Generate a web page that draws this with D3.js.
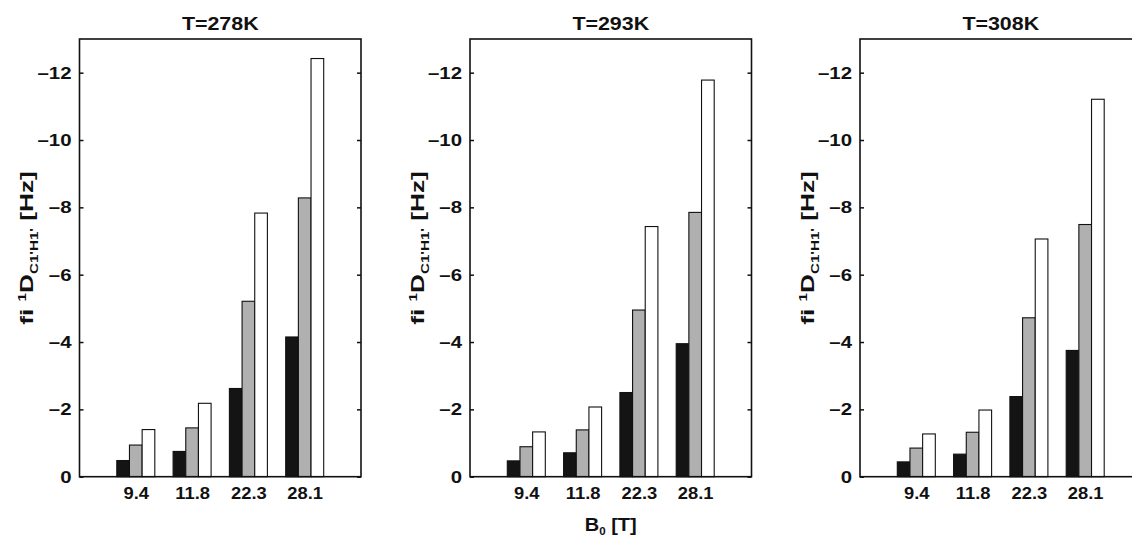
<!DOCTYPE html>
<html>
<head>
<meta charset="utf-8">
<script src="https://cdn.jsdelivr.net/npm/d3@7"></script>
<style>
  body { margin: 0; background: #fff; }
  svg text { font-family: "Liberation Sans", Arial, sans-serif; font-weight: bold; }
</style>
</head>
<body>
<svg id="chart"></svg>
<script>
// field values (Hz), one array per temperature, ordered by field then series
var fields = ["9.4", "11.8", "22.3", "28.1"];
var temps = ["T=278K", "T=293K", "T=308K"];
var seriesColors = ["#141414", "#b0b0b0", "#ffffff"];

var black278 = [-0.48, -0.75, -2.62, -4.15];
var gray278  = [-0.94, -1.45, -5.21, -8.28];
var white278 = [-1.40, -2.18, -7.83, -12.42];

var black293 = [-0.47, -0.71, -2.50, -3.95];
var gray293  = [-0.89, -1.39, -4.95, -7.85];
var white293 = [-1.33, -2.07, -7.43, -11.78];

var black308 = [-0.44, -0.67, -2.38, -3.75];
var gray308  = [-0.85, -1.32, -4.72, -7.49];
var white308 = [-1.27, -1.98, -7.06, -11.21];

var yTicks = [0, -2, -4, -6, -8, -10, -12];

var panels = [
  [black278, gray278, white278],
  [black293, gray293, white293],
  [black308, gray308, white308]
];

var width = 1132, height = 538;
var lefts = [79.5, 470, 860];
var boxW = 281.5, plotTop = 39, plotBottom = 476.7;
var barW = 0.225;

var svg = d3.select("#chart").attr("width", width).attr("height", height);

var y = d3.scaleLinear().domain([0, -13]).range([plotBottom, plotTop]);

panels.forEach(function(series, p) {
  var x = d3.scaleLinear().domain([0, 5]).range([lefts[p], lefts[p] + boxW]);

  var g = svg.append("g");

  // bars
  series.forEach(function(vals, s) {
    g.selectAll(".bar" + s).data(vals).enter().append("rect")
      .attr("x", function(d, i) { return x(i + 1 + (s - 1) * barW - barW / 2); })
      .attr("width", x(barW) - x(0))
      .attr("y", function(d) { return y(d); })
      .attr("height", function(d) { return y(0) - y(d); })
      .attr("fill", seriesColors[s])
      .attr("stroke", "#111")
      .attr("stroke-width", 1.1);
  });

  // box
  g.append("rect")
    .attr("x", lefts[p]).attr("y", plotTop)
    .attr("width", boxW).attr("height", plotBottom - plotTop)
    .attr("fill", "none").attr("stroke", "#111").attr("stroke-width", 1.6);

  // left axis (labels a bit wider, like the original font)
  var yAxis = d3.axisLeft(y).tickValues(yTicks).tickSizeInner(-4).tickSizeOuter(0).tickPadding(8)
    .tickFormat(function(d) { return d === 0 ? "0" : "\u2013" + Math.abs(d); });
  var ya = g.append("g").attr("transform", "translate(" + lefts[p] + ",0)").call(yAxis);
  ya.select(".domain").remove();
  ya.selectAll("line").attr("stroke", "#111").attr("stroke-width", 1.5);
  ya.selectAll("text").attr("font-size", 17).attr("fill", "#111")
    .attr("x", -8 / 1.2).attr("transform", "scale(1.2,1)");

  // right axis ticks
  var yr = g.append("g").attr("transform", "translate(" + (lefts[p] + boxW) + ",0)")
    .call(d3.axisRight(y).tickValues(yTicks).tickSizeInner(-4).tickSizeOuter(0).tickFormat(""));
  yr.select(".domain").remove();
  yr.selectAll("line").attr("stroke", "#111").attr("stroke-width", 1.5);

  // bottom axis
  var xAxis = d3.axisBottom(x).tickValues([1, 2, 3, 4]).tickSize(0).tickPadding(10)
    .tickFormat(function(d) { return fields[d - 1]; });
  var xa = g.append("g").attr("transform", "translate(0," + plotBottom + ")").call(xAxis);
  xa.select(".domain").remove();
  xa.selectAll("text").attr("font-size", 17).attr("fill", "#111")
    .attr("transform", "scale(1.08,1)");

  // title
  g.append("text")
    .attr("transform", "translate(" + (lefts[p] + boxW / 2) + ",29.5) scale(1.19,1)")
    .attr("text-anchor", "middle").attr("font-size", 18).attr("fill", "#111")
    .text(temps[p]);

  // y label
  var yl = g.append("text")
    .attr("transform", "translate(" + (lefts[p] - 46.5) + ",248) rotate(-90) scale(1.38,1)")
    .attr("text-anchor", "middle").attr("font-size", 19).attr("fill", "#111");
  yl.append("tspan").text("fi ");
  yl.append("tspan").attr("font-size", 11).attr("dy", -7).text("1");
  yl.append("tspan").attr("dy", 7).text("D");
  yl.append("tspan").attr("font-size", 11).attr("dy", 5).text("C1'H1'");
  yl.append("tspan").attr("dy", -5).text(" [Hz]");
});

// x label under the middle panel
var xl = svg.append("text")
  .attr("transform", "translate(" + (lefts[1] + boxW / 2) + ",531) scale(1.05,1)")
  .attr("text-anchor", "middle").attr("font-size", 19).attr("fill", "#111");
xl.append("tspan").text("B");
xl.append("tspan").attr("font-size", 11).attr("dy", 4).text("0");
xl.append("tspan").attr("dy", -4).text(" [T]");
</script>
</body>
</html>
